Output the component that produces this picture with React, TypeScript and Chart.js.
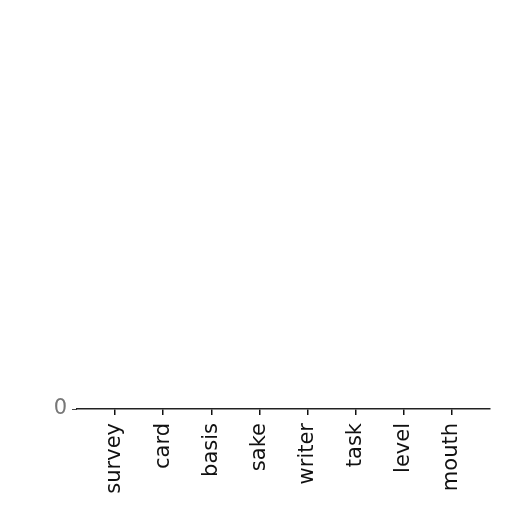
import { useEffect, useRef } from "react"
import { Chart, registerables } from "chart.js"

Chart.register(...registerables)

const categories = ["survey", "card", "basis", "sake", "writer", "task", "level", "mouth"]
const values = [0, 0, 0, 0, 0, 0, 0, 0]
const yTicks = [0]

export default function App() {
  const canvasRef = useRef<HTMLCanvasElement>(null)
  const chartRef = useRef<Chart | null>(null)

  useEffect(() => {
    if (!canvasRef.current) return
    if (chartRef.current) chartRef.current.destroy()

    const font = { family: "DejaVu Sans", size: 21 }

    chartRef.current = new Chart(canvasRef.current, {
      type: "bar",
      data: {
        datasets: [
          {
            data: values.map((v, i) => ({ x: i, y: v })),
            backgroundColor: "#1f77b4",
            barPercentage: 0.8,
            categoryPercentage: 1,
          },
        ],
      },
      options: {
        animation: false,
        responsive: false,
        layout: { padding: { top: 40, right: 22, left: 0, bottom: 0 } },
        plugins: { legend: { display: false }, tooltip: { enabled: false } },
        scales: {
          x: {
            type: "linear",
            offset: false,
            min: -0.79,
            max: 7.79,
            afterBuildTicks: (s) => {
              s.ticks = categories.map((_, i) => ({ value: i }))
            },
            afterFit: (s) => {
              s.height = 103
            },
            ticks: {
              callback: (v) => categories[Number(v)] ?? "",
              maxRotation: 90,
              minRotation: 90,
              autoSkip: false,
              padding: 8,
              color: "#111",
              font,
            },
            grid: { offset: false, drawOnChartArea: false, tickLength: 6, color: "#111", lineWidth: 1.5 },
            border: { display: true, color: "#222", width: 1.4 },
          },
          y: {
            min: 0,
            max: 1,
            afterBuildTicks: (s) => {
              s.ticks = yTicks.map((v) => ({ value: v }))
            },
            afterFit: (s) => {
              s.width = 77
            },
            ticks: { color: "#777", font, padding: 5 },
            grid: { drawOnChartArea: false, tickLength: 5, color: "#444" },
            border: { display: false },
          },
        },
      },
    })

    return () => {
      if (chartRef.current) chartRef.current.destroy()
    }
  }, [])

  return (
    <div style={{ position: "fixed", left: 0, top: 0, width: 512, height: 512, background: "#fff" }}>
      <canvas ref={canvasRef} width={512} height={512}></canvas>
    </div>
  )
}
